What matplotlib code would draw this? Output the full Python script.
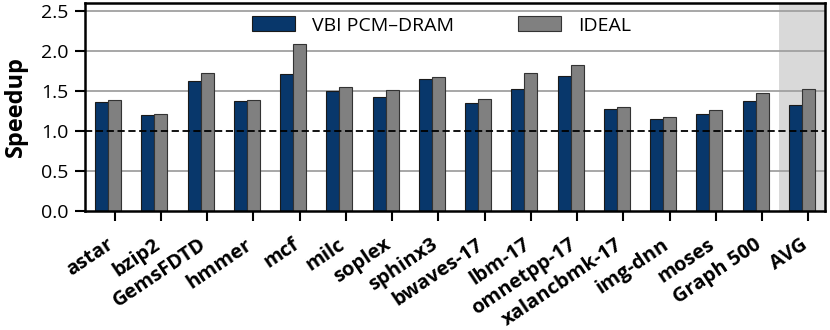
import numpy as np
import matplotlib
matplotlib.use('Agg')
import matplotlib.pyplot as plt

plt.rcParams['font.family'] = ['Open Sans', 'DejaVu Sans']

benchmarks = ['astar', 'bzip2', 'GemsFDTD', 'hmmer', 'mcf', 'milc', 'soplex',
              'sphinx3', 'bwaves-17', 'lbm-17', 'omnetpp-17', 'xalancbmk-17',
              'img-dnn', 'moses', 'Graph 500', 'AVG']
vbi = [1.36, 1.20, 1.62, 1.38, 1.71, 1.50, 1.42, 1.65, 1.35, 1.53, 1.69, 1.27,
       1.15, 1.21, 1.38, 1.33]
ideal = [1.39, 1.21, 1.73, 1.39, 2.09, 1.55, 1.51, 1.68, 1.40, 1.73, 1.82, 1.30,
         1.17, 1.26, 1.48, 1.52]

x = np.arange(len(benchmarks))
w = 0.28

fig = plt.figure(figsize=(8.3, 3.3), dpi=100)
ax = fig.add_axes([0.1024, 0.3606, 0.8916, 0.6304])

ax.axvspan(14.5, 15.5, color='#d9d9d9', zorder=0, lw=0)
for y in [0.5, 1.5, 2.0, 2.5]:
    ax.axhline(y, color='#a0a0a0', lw=1.3, zorder=1)

ax.bar(x - w / 2, vbi, w, color='#08376b', edgecolor='#1a1a1a', lw=0.8,
       label='VBI PCM\u2013DRAM', zorder=2)
ax.bar(x + w / 2, ideal, w, color='#808080', edgecolor='#333333', lw=0.8,
       label='IDEAL', zorder=2)
ax.axhline(1.0, color='black', lw=1.3, ls=(0, (4, 2)), zorder=3)

ax.set_xlim(-0.5, 15.5)
ax.set_ylim(0, 2.6)
ax.set_yticks([0.0, 0.5, 1.0, 1.5, 2.0, 2.5])
ax.set_yticklabels(['0.0', '0.5', '1.0', '1.5', '2.0', '2.5'], fontsize=14)
ax.set_xticks(x + w / 2)
ax.set_xticklabels(benchmarks, rotation=34, ha='right', va='baseline',
                   rotation_mode='anchor', fontsize=14.5, fontweight='bold')
ax.set_ylabel('Speedup', fontsize=17, fontweight='bold', labelpad=9)

ax.tick_params(axis='x', length=7, width=1.5, direction='out', pad=19)
ax.tick_params(axis='y', length=7, width=1.5, pad=5)
for s in ax.spines.values():
    s.set_linewidth(1.8)

ax.legend(loc='upper center', ncol=2, frameon=False, fontsize=14,
          handlelength=2.2, handleheight=0.8, handletextpad=0.9,
          columnspacing=3.3, bbox_to_anchor=(0.482, 1.02))

fig.savefig('out.png', dpi=100)
